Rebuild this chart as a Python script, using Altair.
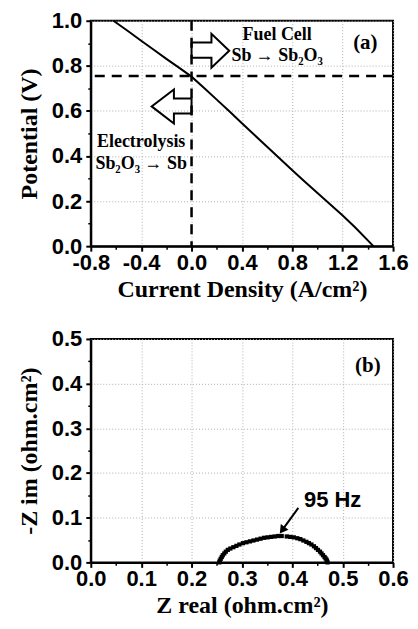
import altair as alt
import pandas as pd

# ---------------- data: panel (a) polarization curve ----------------
cd_x = [-0.62, -0.5, -0.4, -0.3, -0.2, -0.1, 0.0, 0.1, 0.2, 0.3, 0.4, 0.5,
        0.6, 0.7, 0.8, 0.9, 1.0, 1.1, 1.2, 1.3, 1.444]
cd_y = [1.0, 0.952, 0.911, 0.871, 0.831, 0.792, 0.752, 0.702, 0.650, 0.598,
        0.545, 0.493, 0.441, 0.389, 0.337, 0.286, 0.236, 0.186, 0.136, 0.083, 0.0]

ocv_potential = [0.755]
zero_current = [0.0]

# hollow block arrows (data units)
arrow_fc_x = [0.0, 0.158, 0.158, 0.299, 0.158, 0.158, 0.0, 0.0]
arrow_fc_y = [0.903, 0.903, 0.942, 0.867, 0.792, 0.836, 0.836, 0.903]
arrow_el_x = [0.0, -0.14, -0.14, -0.317, -0.14, -0.14, 0.0, 0.0]
arrow_el_y = [0.655, 0.655, 0.695, 0.62, 0.544, 0.588, 0.588, 0.655]

labels_a = ["Fuel Cell", "Sb → Sb₂O₃", "Electrolysis", "Sb₂O₃ → Sb"]
labels_a_x = [0.68, 0.68, -0.40, -0.40]
labels_a_y = [0.935, 0.845, 0.46, 0.365]
panel_a_tag = ["(a)"]
panel_a_tag_x = [1.38]
panel_a_tag_y = [0.90]

xa_ticks = [-0.8, -0.4, 0.0, 0.4, 0.8, 1.2, 1.6]
xa_minor = [-0.6, -0.2, 0.2, 0.6, 1.0, 1.4]
ya_ticks = [0.0, 0.2, 0.4, 0.6, 0.8, 1.0]
ya_minor = [0.1, 0.3, 0.5, 0.7, 0.9]

# ---------------- data: panel (b) impedance spectrum ----------------
z_re = [0.255, 0.256, 0.258, 0.260, 0.262, 0.265, 0.268, 0.272, 0.277, 0.283,
        0.289, 0.295, 0.302, 0.309, 0.316, 0.323, 0.330, 0.337, 0.344, 0.351,
        0.358, 0.365, 0.372, 0.379, 0.389, 0.396, 0.403, 0.410, 0.416, 0.422,
        0.428, 0.433, 0.438, 0.443, 0.447, 0.451, 0.455, 0.458, 0.461, 0.464,
        0.466, 0.468, 0.469, 0.470]
z_im = [0.000, 0.004, 0.008, 0.012, 0.016, 0.020, 0.024, 0.028, 0.031, 0.034,
        0.037, 0.040, 0.043, 0.045, 0.047, 0.049, 0.051, 0.053, 0.055, 0.056,
        0.057, 0.058, 0.059, 0.059, 0.058, 0.057, 0.056, 0.054, 0.052, 0.049,
        0.046, 0.043, 0.040, 0.036, 0.032, 0.028, 0.024, 0.020, 0.016, 0.012,
        0.009, 0.006, 0.003, 0.000]

hz_label = ["95 Hz"]
hz_label_x = [0.48]
hz_label_y = [0.14]
hz_arrow_x = [0.412, 0.380]
hz_arrow_y = [0.122, 0.072]
labels_b = ["(b)"]
labels_b_x = [0.55]
labels_b_y = [0.44]

xb_ticks = [0.0, 0.1, 0.2, 0.3, 0.4, 0.5, 0.6]
xb_minor = [0.05, 0.15, 0.25, 0.35, 0.45, 0.55]
yb_ticks = [0.0, 0.1, 0.2, 0.3, 0.4, 0.5]
yb_minor = [0.05, 0.15, 0.25, 0.35, 0.45]

SANS = "Liberation Sans"
SERIF = "Liberation Serif"
W = 303

label_expr = "(datum.value < 0 ? '-' : '') + format(abs(datum.value), '.1f')"


def main_axis(values, title, pad, tpad):
    return alt.Axis(values=values, title=title, labelExpr=label_expr,
                    labelFont=SANS, labelFontWeight="bold", labelFontSize=22,
                    labelColor="black", titleFont=SERIF, titleFontWeight="bold",
                    titleFontSize=24, titleColor="black", tickSize=5, tickWidth=2,
                    tickColor="black", domainColor="black", domainWidth=2,
                    labelPadding=pad, titlePadding=tpad, grid=True, gridColor="#b0b0b0",
                    gridDash=[1, 2], gridWidth=1, labelFlush=False, labelOverlap=False)


def minor_axis(values, orient):
    return alt.Axis(values=values, labels=False, title=None, tickSize=3,
                    tickWidth=1.5, tickColor="black", domain=False, grid=False,
                    orient=orient)


# ---------------- panel (a) ----------------
df_a = pd.DataFrame({"x": cd_x, "y": cd_y})
xa_scale = alt.Scale(domain=[-0.8, 1.6], nice=False, zero=False)
ya_scale = alt.Scale(domain=[0.0, 1.0], nice=False, zero=False)

curve = alt.Chart(df_a).mark_line(color="black", strokeWidth=2).encode(
    x=alt.X("x:Q", scale=xa_scale,
            axis=main_axis(xa_ticks, "Current Density (A/cm²)", 1, 4)),
    y=alt.Y("y:Q", scale=ya_scale, axis=main_axis(ya_ticks, "Potential (V)", 4, 10)),
)
minor_a = alt.Chart(df_a).mark_point(opacity=0).encode(
    x=alt.X("x:Q", axis=minor_axis(xa_minor, "bottom")),
    y=alt.Y("y:Q", axis=minor_axis(ya_minor, "left")),
)
hline = alt.Chart(pd.DataFrame({"y": ocv_potential})).mark_rule(
    color="black", strokeWidth=2.5, strokeDash=[10, 7]).encode(
    y=alt.Y("y:Q", axis=None))
vline = alt.Chart(pd.DataFrame({"x": zero_current})).mark_rule(
    color="black", strokeWidth=2.5, strokeDash=[10, 7]).encode(
    x=alt.X("x:Q", axis=None))

df_arrows = pd.DataFrame({
    "x": arrow_fc_x + arrow_el_x,
    "y": arrow_fc_y + arrow_el_y,
    "arrow": ["fc"] * len(arrow_fc_x) + ["el"] * len(arrow_el_x),
    "order": list(range(len(arrow_fc_x))) + list(range(len(arrow_el_x))),
})
arrows = alt.Chart(df_arrows).mark_line(color="black", strokeWidth=2,
                                        strokeJoin="miter").encode(
    x=alt.X("x:Q", axis=None), y=alt.Y("y:Q", axis=None),
    detail="arrow:N", order="order:Q")

df_la = pd.DataFrame({"t": labels_a, "x": labels_a_x, "y": labels_a_y})
text_a = alt.Chart(df_la).mark_text(font=SERIF, fontWeight="bold", fontSize=18,
                                    color="black").encode(
    x=alt.X("x:Q", axis=None), y=alt.Y("y:Q", axis=None), text="t:N")
df_ta = pd.DataFrame({"t": panel_a_tag, "x": panel_a_tag_x, "y": panel_a_tag_y})
tag_a = alt.Chart(df_ta).mark_text(font=SERIF, fontWeight="bold", fontSize=21,
                                   color="black").encode(
    x=alt.X("x:Q", axis=None), y=alt.Y("y:Q", axis=None), text="t:N")

panel_a = alt.layer(curve, minor_a, hline, vline, arrows, text_a, tag_a).resolve_axis(
    x="independent", y="independent").properties(width=W, height=226)

# ---------------- panel (b) ----------------
df_b = pd.DataFrame({"x": z_re, "y": z_im})
xb_scale = alt.Scale(domain=[0.0, 0.6], nice=False, zero=False)
yb_scale = alt.Scale(domain=[0.0, 0.5], nice=False, zero=False)

nyq = alt.Chart(df_b).mark_square(color="black", size=18, opacity=1).encode(
    x=alt.X("x:Q", scale=xb_scale, axis=main_axis(xb_ticks, "Z real (ohm.cm²)", 1, 4)),
    y=alt.Y("y:Q", scale=yb_scale, axis=main_axis(yb_ticks, "-Z im (ohm.cm²)", 4, 10)),
)
minor_b = alt.Chart(df_b).mark_point(opacity=0).encode(
    x=alt.X("x:Q", axis=minor_axis(xb_minor, "bottom")),
    y=alt.Y("y:Q", axis=minor_axis(yb_minor, "left")),
)
df_ha = pd.DataFrame({"x": hz_arrow_x, "y": hz_arrow_y})
hz_shaft = alt.Chart(df_ha).mark_line(color="black", strokeWidth=2).encode(
    x=alt.X("x:Q", axis=None), y=alt.Y("y:Q", axis=None))
hz_head = alt.Chart(df_ha.tail(1)).mark_point(
    shape="triangle-up", filled=True, color="black", size=90, angle=216,
    opacity=1).encode(x=alt.X("x:Q", axis=None), y=alt.Y("y:Q", axis=None))
df_hz = pd.DataFrame({"t": hz_label, "x": hz_label_x, "y": hz_label_y})
hz_text = alt.Chart(df_hz).mark_text(font=SANS, fontWeight="bold", fontSize=22,
                                     color="black").encode(
    x=alt.X("x:Q", axis=None), y=alt.Y("y:Q", axis=None), text="t:N")
df_lb = pd.DataFrame({"t": labels_b, "x": labels_b_x, "y": labels_b_y})
text_b = alt.Chart(df_lb).mark_text(font=SERIF, fontWeight="bold", fontSize=21,
                                    color="black").encode(
    x=alt.X("x:Q", axis=None), y=alt.Y("y:Q", axis=None), text="t:N")

panel_b = alt.layer(nyq, minor_b, hz_shaft, hz_head, hz_text, text_b).resolve_axis(
    x="independent", y="independent").properties(width=W, height=224)

chart = alt.vconcat(panel_a, panel_b, spacing=25).properties(
    padding={"left": 8, "top": 0, "right": 0, "bottom": 0},
    background="white",
).configure_view(stroke="black", strokeWidth=2)

chart.save("out.html", embed_options={"renderer": "svg", "actions": False})
